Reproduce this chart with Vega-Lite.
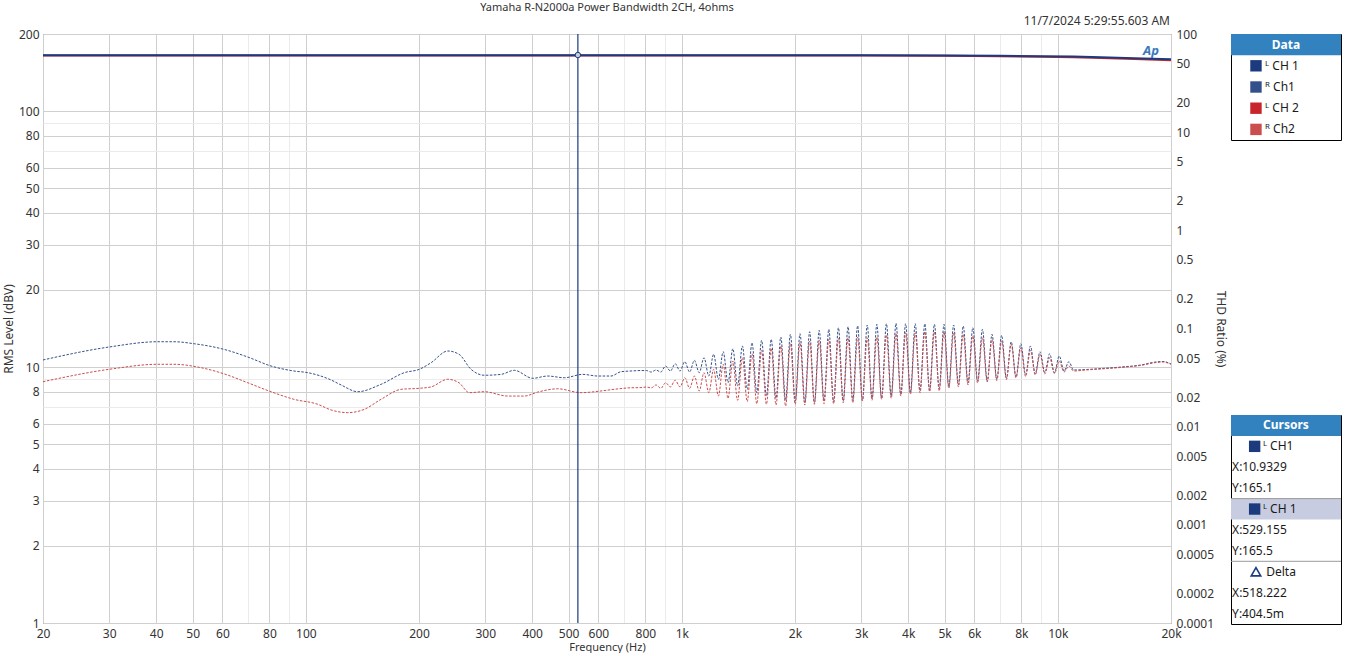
{
  "$schema": "https://vega.github.io/schema/vega-lite/v6.json",
  "padding": {"left": 1, "top": 1, "right": 0, "bottom": 0},
  "background": "white",
  "config": {
    "font": "Noto Sans",
    "view": {"stroke": null},
    "axis": {"labelFont": "Noto Sans", "titleFont": "Noto Sans", "labelFontSize": 12, "titleFontSize": 12, "labelColor": "#333333", "titleColor": "#333333", "titleFontWeight": "normal", "ticks": false, "domain": false}
  },
  "bounds": "flush",
  "spacing": 60,
  "hconcat": [
    {
      "width": 1128,
      "height": 589,
      "view": {"stroke": "#707070", "strokeWidth": 1},
      "resolve": {"scale": {"y": "independent"}},
      "layer": [
        {
          "data": {"values": [
            {"f":20,"R1":0.0478},{"f":30,"R1":0.0648},{"f":40.4,"R1":0.0733},{"f":44.6,"R1":0.0733},{"f":50.4,"R1":0.0700},{"f":60.5,"R1":0.0614},{"f":70.1,"R1":0.0512},{"f":80.8,"R1":0.0415},{"f":93,"R1":0.0369},{"f":101.2,"R1":0.0355},{"f":116.7,"R1":0.0299},{"f":124.1,"R1":0.0266},{"f":137.4,"R1":0.0227},{"f":158.5,"R1":0.0270},{"f":182.9,"R1":0.0355},{"f":200.4,"R1":0.0384},{"f":215.3,"R1":0.0448},{"f":238.5,"R1":0.0590},{"f":255.6,"R1":0.0546},{"f":275,"R1":0.0384},{"f":298.4,"R1":0.0334},{"f":330.5,"R1":0.0341},{"f":358.5,"R1":0.0375},{"f":401.2,"R1":0.0311},{"f":439.8,"R1":0.0328},{"f":487,"R1":0.0315},{"f":544.9,"R1":0.0341},{"f":597.4,"R1":0.0328},{"f":648.1,"R1":0.0328},{"f":688.9,"R1":0.0363},{"f":732.4,"R1":0.0369},{"f":778.6,"R1":0.0373},
            {"f":20,"R2":0.0287},{"f":30,"R2":0.0384},{"f":40.4,"R2":0.0432},{"f":44.6,"R2":0.0432},{"f":52.6,"R2":0.0399},{"f":60.5,"R2":0.0346},{"f":70.1,"R2":0.0280},{"f":80.8,"R2":0.0227},{"f":93,"R2":0.0190},{"f":107.6,"R2":0.0169},{"f":116.7,"R2":0.0148},{"f":129.3,"R2":0.0139},{"f":143,"R2":0.0150},{"f":158.5,"R2":0.0190},{"f":179.2,"R2":0.0240},{"f":200.4,"R2":0.0246},{"f":215.3,"R2":0.0254},{"f":238.5,"R2":0.0304},{"f":255.6,"R2":0.0280},{"f":272.2,"R2":0.0222},{"f":298.4,"R2":0.0227},{"f":344.3,"R2":0.0205},{"f":381.1,"R2":0.0205},{"f":413.7,"R2":0.0225},{"f":467.6,"R2":0.0243},{"f":539.6,"R2":0.0222},{"f":609.5,"R2":0.0231},{"f":660.1,"R2":0.0240},{"f":732.4,"R2":0.0249},{"f":778.6,"R2":0.0250},
            {"f":805.1,"R1":0.0373,"R2":0.02535},{"f":829.1,"R1":0.0360,"R2":0.0248},
            {"f":853.8,"R1":0.0378,"R2":0.0266},{"f":879.3,"R1":0.0360,"R2":0.0246},{"f":905.5,"R1":0.0415,"R2":0.0280},{"f":932.5,"R1":0.0369,"R2":0.0254},{"f":960.3,"R1":0.0438,"R2":0.0297},{"f":989.0,"R1":0.0369,"R2":0.0254},{"f":1018.5,"R1":0.0459,"R2":0.0315},{"f":1048.9,"R1":0.0360,"R2":0.0246},{"f":1080.2,"R1":0.0474,"R2":0.0328},{"f":1112.4,"R1":0.0355,"R2":0.0231},{"f":1145.6,"R1":0.0504,"R2":0.0355},{"f":1179.8,"R1":0.0328,"R2":0.0222},{"f":1215.0,"R1":0.0546,"R2":0.0384},{"f":1251.2,"R1":0.0304,"R2":0.0205},{"f":1288.5,"R1":0.0580,"R2":0.0432},{"f":1327.0,"R1":0.0280,"R2":0.01945},{"f":1366.6,"R1":0.0622,"R2":0.0466},{"f":1407.3,"R1":0.0260,"R2":0.01856},{"f":1449.3,"R1":0.0663,"R2":0.0504},{"f":1492.5,"R1":0.0240,"R2":0.0180},{"f":1537.1,"R1":0.0716,"R2":0.0553},{"f":1582.9,"R1":0.0222,"R2":0.0171},{"f":1630.2,"R1":0.0758,"R2":0.0599},{"f":1678.8,"R1":0.0205,"R2":0.0169},{"f":1728.9,"R1":0.0776,"R2":0.0628},{"f":1780.5,"R1":0.01945,"R2":0.0166},{"f":1833.6,"R1":0.0819,"R2":0.0663},{"f":1888.3,"R1":0.01856,"R2":0.0162},{"f":1944.6,"R1":0.0872,"R2":0.0703},{"f":2002.6,"R1":0.01826,"R2":0.0169},{"f":2062.4,"R1":0.0885,"R2":0.0725},{"f":2123.9,"R1":0.01754,"R2":0.0166},{"f":2187.3,"R1":0.0927,"R2":0.0746},{"f":2252.5,"R1":0.01754,"R2":0.0169},{"f":2319.7,"R1":0.0958,"R2":0.0758},{"f":2388.9,"R1":0.01826,"R2":0.0171},{"f":2460.2,"R1":0.0981,"R2":0.0776},{"f":2533.6,"R1":0.01796,"R2":0.0171},{"f":2609.2,"R1":0.1018,"R2":0.0794},{"f":2687.0,"R1":0.01826,"R2":0.01754},{"f":2767.2,"R1":0.1043,"R2":0.0805},{"f":2849.7,"R1":0.01856,"R2":0.01754},{"f":2934.7,"R1":0.1067,"R2":0.0819},{"f":3022.3,"R1":0.01856,"R2":0.01826},{"f":3112.5,"R1":0.1085,"R2":0.0805},{"f":3205.3,"R1":0.01945,"R2":0.01856},{"f":3300.9,"R1":0.1103,"R2":0.0819},{"f":3399.4,"R1":0.01945,"R2":0.0190},{"f":3500.8,"R1":0.1118,"R2":0.0858},{"f":3605.3,"R1":0.0205,"R2":0.01945},{"f":3712.8,"R1":0.1129,"R2":0.0885},{"f":3823.6,"R1":0.02136,"R2":0.0205},{"f":3937.7,"R1":0.1118,"R2":0.0906},{"f":4055.2,"R1":0.0222,"R2":0.02136},{"f":4176.1,"R1":0.1118,"R2":0.0906},{"f":4300.7,"R1":0.0231,"R2":0.0222},{"f":4429.0,"R1":0.1118,"R2":0.0927},{"f":4561.1,"R1":0.0236,"R2":0.0227},{"f":4697.2,"R1":0.1103,"R2":0.0927},{"f":4837.4,"R1":0.0245,"R2":0.0231},{"f":4981.7,"R1":0.1103,"R2":0.0927},{"f":5130.3,"R1":0.0257,"R2":0.0246},{"f":5283.3,"R1":0.1085,"R2":0.0906},{"f":5440.9,"R1":0.0268,"R2":0.0254},{"f":5603.2,"R1":0.1060,"R2":0.0872},{"f":5770.4,"R1":0.0280,"R2":0.0266},{"f":5942.6,"R1":0.1018,"R2":0.0838},{"f":6119.9,"R1":0.0292,"R2":0.0278},{"f":6302.5,"R1":0.0981,"R2":0.0805},{"f":6490.5,"R1":0.0292,"R2":0.0285},{"f":6684.1,"R1":0.0872,"R2":0.0776},{"f":6883.5,"R1":0.0304,"R2":0.0295},{"f":7088.9,"R1":0.0852,"R2":0.0746},{"f":7300.4,"R1":0.0311,"R2":0.0302},{"f":7518.2,"R1":0.0733,"R2":0.0690},{"f":7742.5,"R1":0.0321,"R2":0.0313},{"f":7973.5,"R1":0.0700,"R2":0.0637},{"f":8211.4,"R1":0.0336,"R2":0.0324},{"f":8456.4,"R1":0.0663,"R2":0.0599},{"f":8708.6,"R1":0.0346,"R2":0.0336},{"f":8968.4,"R1":0.0580,"R2":0.0546},{"f":9236.0,"R1":0.0355,"R2":0.0344},{"f":9511.5,"R1":0.0553,"R2":0.0504},{"f":9795.3,"R1":0.0355,"R2":0.0348},{"f":10087.5,"R1":0.0524,"R2":0.0466},{"f":10388.5,"R1":0.0369,"R2":0.0360},{"f":10698.4,"R1":0.0459,"R2":0.0415},{"f":11017.6,"R1":0.0378,"R2":0.0369},
            {"f":11884,"R1":0.0382,"R2":0.0378},{"f":13028,"R1":0.0391,"R2":0.0387},{"f":14724,"R1":0.0405,"R2":0.0401},{"f":16646,"R1":0.0425,"R2":0.0421},{"f":18248,"R1":0.0456,"R2":0.0450},{"f":19046,"R1":0.0461,"R2":0.0456},{"f":20000,"R1":0.0435,"R2":0.0432}
          ]},
          "transform": [{"fold": ["R2", "R1"], "as": ["series", "v"]}, {"filter": "isValid(datum.v)"}],
          "mark": {"type": "line", "strokeWidth": 1, "strokeDash": [2.5, 1.5], "interpolate": "monotone", "clip": true},
          "encoding": {
            "x": {"field": "f", "type": "quantitative", "scale": {"type": "log", "domain": [20, 20000], "nice": false},
              "axis": {"title": "Frequency (Hz)", "titleFontSize": 11, "values": [20,30,40,50,60,70,80,90,100,200,300,400,500,600,700,800,900,1000,2000,3000,4000,5000,6000,7000,8000,9000,10000,20000],
                "labelExpr": "indexof([70,90,700,900,7000,9000], datum.value) >= 0 ? '' : (datum.value >= 1000 ? (datum.value/1000) + 'k' : '' + datum.value)",
                "grid": true, "gridColor": {"condition": {"test": "indexof([70,90,700,900,7000,9000], datum.value) >= 0", "value": "#ebebeb"}, "value": "#cfcfcf"},
                "labelPadding": 5, "titlePadding": 2, "labelFlush": false, "labelOverlap": false}},
            "y": {"field": "v", "type": "quantitative", "scale": {"type": "log", "domain": [0.0001, 100], "nice": false},
              "axis": {"orient": "right", "title": "THD Ratio (%)", "values": [0.0001,0.0002,0.0005,0.001,0.002,0.005,0.01,0.02,0.05,0.1,0.2,0.5,1,2,5,10,20,50,100], "format": "~g", "grid": false, "labelPadding": 5, "titlePadding": 0, "labelOverlap": false}},
            "color": {"field": "series", "type": "nominal", "scale": {"domain": ["L1", "R1", "L2", "R2"], "range": ["#1c3a7e", "#34508a", "#c8242b", "#cc4d4d"]}, "legend": null}
          }
        },
        {
          "layer": [
            {
              "data": {"values": [
                {"f":20,"L1":165.3,"L2":165.0},{"f":1000,"L1":165.3,"L2":165.0},{"f":3000,"L1":165.2,"L2":164.9},{"f":5000,"L1":164.9,"L2":164.3},{"f":7000,"L1":164.5,"L2":163.7},{"f":9000,"L1":163.9,"L2":163.0},{"f":11000,"L1":163.3,"L2":162.2},{"f":13000,"L1":162.3,"L2":161.3},{"f":16000,"L1":160.8,"L2":159.8},{"f":20000,"L1":159.3,"L2":158.1}
              ]},
              "transform": [{"fold": ["L2", "L1"], "as": ["series", "level"]}],
              "mark": {"type": "line", "strokeWidth": 2, "clip": true},
              "encoding": {
                "x": {"field": "f", "type": "quantitative", "scale": {"type": "log", "domain": [20, 20000], "nice": false}},
                "y": {"field": "level", "type": "quantitative", "scale": {"type": "log", "domain": [1, 200], "nice": false},
                  "axis": {"orient": "left", "title": "RMS Level (dBV)", "values": [1,2,3,4,5,6,7,8,9,10,20,30,40,50,60,70,80,90,100,200],
                    "labelExpr": "indexof([7,9,70,90], datum.value) >= 0 ? '' : '' + datum.value",
                    "grid": true, "gridColor": {"condition": {"test": "indexof([7,9,70,90], datum.value) >= 0", "value": "#ebebeb"}, "value": "#cfcfcf"},
                    "labelPadding": 4, "titlePadding": 3, "labelOverlap": false}},
                "color": {"field": "series", "type": "nominal", "scale": {"domain": ["L1", "R1", "L2", "R2"], "range": ["#1c3a7e", "#34508a", "#c8242b", "#cc4d4d"]}, "legend": null}
              }
            },
            {
              "data": {"values": [{"f": 529.155, "level": 165.5}]},
              "mark": {"type": "rule", "color": "#1c3a7e", "strokeWidth": 1.2},
              "encoding": {"x": {"field": "f", "type": "quantitative", "scale": {"type": "log", "domain": [20, 20000], "nice": false}}}
            },
            {
              "data": {"values": [{"f": 529.155, "level": 165.5}]},
              "mark": {"type": "point", "shape": "circle", "filled": true, "fill": "#c9cdd8", "stroke": "#1c3a7e", "strokeWidth": 1, "size": 30, "opacity": 1},
              "encoding": {"x": {"field": "f", "type": "quantitative", "scale": {"type": "log", "domain": [20, 20000], "nice": false}}, "y": {"field": "level", "type": "quantitative", "scale": {"type": "log", "domain": [1, 200], "nice": false}}}
            },
            {
              "data": {"values": [{"label": "Yamaha R-N2000a Power Bandwidth 2CH, 4ohms", "f": 632.5, "level": 200}]},
              "mark": {"type": "text", "fontSize": 11, "color": "#333333", "baseline": "middle", "dy": -26},
              "encoding": {"x": {"field": "f", "type": "quantitative", "scale": {"type": "log", "domain": [20, 20000], "nice": false}}, "y": {"field": "level", "type": "quantitative", "scale": {"type": "log", "domain": [1, 200], "nice": false}}, "text": {"field": "label"}}
            },
            {
              "data": {"values": [{"label": "11/7/2024 5:29:55.603 AM", "f": 20000, "level": 200}]},
              "mark": {"type": "text", "fontSize": 12, "color": "#333333", "baseline": "middle", "align": "right", "dy": -13, "dx": -1},
              "encoding": {"x": {"field": "f", "type": "quantitative", "scale": {"type": "log", "domain": [20, 20000], "nice": false}}, "y": {"field": "level", "type": "quantitative", "scale": {"type": "log", "domain": [1, 200], "nice": false}}, "text": {"field": "label"}}
            },
            {
              "data": {"values": [{"label": "Ap", "f": 17700, "level": 172}]},
              "mark": {"type": "text", "fontSize": 13, "fontStyle": "italic", "fontWeight": "bold", "color": "#3a78bd", "baseline": "middle"},
              "encoding": {"x": {"field": "f", "type": "quantitative", "scale": {"type": "log", "domain": [20, 20000], "nice": false}}, "y": {"field": "level", "type": "quantitative", "scale": {"type": "log", "domain": [1, 200], "nice": false}}, "text": {"field": "label"}}
            }
          ]
        }
      ]
    },
    {
      "bounds": "flush",
      "spacing": 275,
      "vconcat": [
        {
          "width": 110,
          "height": 106,
          "view": {"stroke": "#000000", "strokeWidth": 1},
          "data": {"values": [
            {"row": "Data", "kind": "header"},
            {"row": "ᴸ CH 1", "kind": "item", "series": "L1"},
            {"row": "ᴿ Ch1", "kind": "item", "series": "R1"},
            {"row": "ᴸ CH 2", "kind": "item", "series": "L2"},
            {"row": "ᴿ Ch2", "kind": "item", "series": "R2"}
          ]},
          "encoding": {"y": {"field": "row", "type": "nominal", "sort": null, "scale": {"type": "band", "domain": ["Data", "ᴸ CH 1", "ᴿ Ch1", "ᴸ CH 2", "ᴿ Ch2"], "paddingInner": 0, "paddingOuter": 0}, "axis": null}},
          "layer": [
            {"transform": [{"filter": "datum.kind == 'header'"}], "mark": {"type": "rect", "fill": "#3282c0"},
              "encoding": {"x": {"datum": 0, "type": "quantitative", "scale": {"domain": [0, 1]}, "axis": null}, "x2": {"datum": 1}}},
            {"transform": [{"filter": "datum.kind == 'header'"}], "mark": {"type": "text", "color": "white", "fontWeight": "bold", "fontSize": 12},
              "encoding": {"x": {"datum": 0.5, "type": "quantitative", "scale": {"domain": [0, 1]}, "axis": null}, "text": {"field": "row"}}},
            {"transform": [{"filter": "datum.kind == 'item'"}], "mark": {"type": "point", "shape": "square", "filled": true, "size": 130, "opacity": 1},
              "encoding": {"x": {"datum": 0.227, "type": "quantitative", "scale": {"domain": [0, 1]}, "axis": null},
                "color": {"field": "series", "type": "nominal", "scale": {"domain": ["L1", "R1", "L2", "R2"], "range": ["#1c3a7e", "#1f3f86", "#c8242b", "#c43434"]}, "legend": null}}},
            {"transform": [{"filter": "datum.kind == 'item'"}], "mark": {"type": "text", "align": "left", "fontSize": 12, "color": "#1a1a1a"},
              "encoding": {"x": {"datum": 0.31, "type": "quantitative", "scale": {"domain": [0, 1]}, "axis": null}, "text": {"field": "row"}}}
          ]
        },
        {
          "width": 110,
          "height": 209,
          "view": {"stroke": "#000000", "strokeWidth": 1},
          "data": {"values": [
            {"row": "Cursors", "kind": "header"},
            {"row": "ᴸ CH1", "kind": "item", "series": "L1"},
            {"row": "X:10.9329", "kind": "value"},
            {"row": "Y:165.1", "kind": "value"},
            {"row": "ᴸ CH 1", "kind": "itemsel", "series": "L1"},
            {"row": "X:529.155", "kind": "value"},
            {"row": "Y:165.5", "kind": "value"},
            {"row": "Delta", "kind": "delta"},
            {"row": "X:518.222", "kind": "value"},
            {"row": "Y:404.5m", "kind": "value"}
          ]},
          "encoding": {"y": {"field": "row", "type": "nominal", "sort": null, "scale": {"type": "band", "domain": ["Cursors", "ᴸ CH1", "X:10.9329", "Y:165.1", "ᴸ CH 1", "X:529.155", "Y:165.5", "Delta", "X:518.222", "Y:404.5m"], "paddingInner": 0, "paddingOuter": 0}, "axis": null}},
          "layer": [
            {"transform": [{"filter": "datum.kind == 'header'"}], "mark": {"type": "rect", "fill": "#3282c0"},
              "encoding": {"x": {"datum": 0, "type": "quantitative", "scale": {"domain": [0, 1]}, "axis": null}, "x2": {"datum": 1}}},
            {"transform": [{"filter": "datum.kind == 'itemsel'"}], "mark": {"type": "rect", "fill": "#c8cce0"},
              "encoding": {"x": {"datum": 0, "type": "quantitative", "scale": {"domain": [0, 1]}, "axis": null}, "x2": {"datum": 1}}},
            {"transform": [{"filter": "datum.kind == 'itemsel' || datum.kind == 'delta'"}], "mark": {"type": "rule", "color": "#9a9a9a", "strokeWidth": 1},
              "encoding": {"x": {"datum": 0, "type": "quantitative", "scale": {"domain": [0, 1]}, "axis": null}, "x2": {"datum": 1}, "y": {"field": "row", "type": "nominal", "sort": null, "bandPosition": 0, "axis": null}}},
            {"transform": [{"filter": "datum.kind == 'header'"}], "mark": {"type": "text", "color": "white", "fontWeight": "bold", "fontSize": 12},
              "encoding": {"x": {"datum": 0.5, "type": "quantitative", "scale": {"domain": [0, 1]}, "axis": null}, "text": {"field": "row"}}},
            {"transform": [{"filter": "datum.kind == 'item' || datum.kind == 'itemsel'"}], "mark": {"type": "point", "shape": "square", "filled": true, "size": 130, "opacity": 1},
              "encoding": {"x": {"datum": 0.215, "type": "quantitative", "scale": {"domain": [0, 1]}, "axis": null},
                "color": {"field": "series", "type": "nominal", "scale": {"domain": ["L1", "R1", "L2", "R2"], "range": ["#1c3a7e", "#1f3f86", "#c8242b", "#c43434"]}, "legend": null}}},
            {"transform": [{"filter": "datum.kind == 'item' || datum.kind == 'itemsel'"}], "mark": {"type": "text", "align": "left", "fontSize": 12, "color": "#1a1a1a"},
              "encoding": {"x": {"datum": 0.29, "type": "quantitative", "scale": {"domain": [0, 1]}, "axis": null}, "text": {"field": "row"}}},
            {"transform": [{"filter": "datum.kind == 'delta'"}], "mark": {"type": "point", "shape": "triangle-up", "filled": false, "stroke": "#1c3a7e", "strokeWidth": 1.6, "size": 90, "opacity": 1},
              "encoding": {"x": {"datum": 0.227, "type": "quantitative", "scale": {"domain": [0, 1]}, "axis": null}}},
            {"transform": [{"filter": "datum.kind == 'delta'"}], "mark": {"type": "text", "align": "left", "fontSize": 12, "color": "#1a1a1a"},
              "encoding": {"x": {"datum": 0.32, "type": "quantitative", "scale": {"domain": [0, 1]}, "axis": null}, "text": {"field": "row"}}},
            {"transform": [{"filter": "datum.kind == 'value'"}], "mark": {"type": "text", "align": "left", "fontSize": 12, "color": "#1a1a1a"},
              "encoding": {"x": {"datum": 0.01, "type": "quantitative", "scale": {"domain": [0, 1]}, "axis": null}, "text": {"field": "row"}}}
          ]
        }
      ]
    }
  ]
}
